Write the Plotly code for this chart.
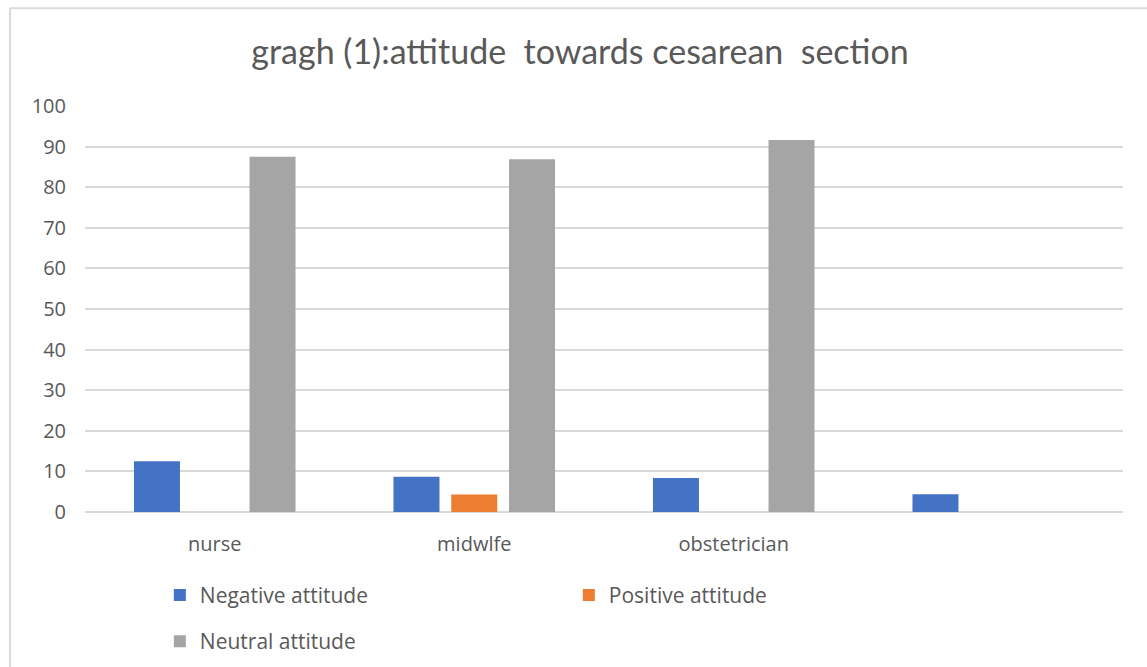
import plotly.graph_objects as go

categories = ["nurse", "midwlfe", "obstetrician", " "]
negative = [12.5, 8.7, 8.4, 4.4]
positive = [0, 4.3, 0, 0]
neutral = [87.5, 86.9, 91.6, 0]
series_names = ["Negative attitude", "Positive attitude", "Neutral attitude"]
colors = ["#4472C4", "#ED7D31", "#A5A5A5"]
y_ticks = [0, 10, 20, 30, 40, 50, 60, 70, 80, 90, 100]

TXT = "#595959"
FONT = "Open Sans"

fig = go.Figure()
fig.add_trace(go.Bar(x=categories, y=negative, name=series_names[0],
                     marker=dict(color=colors[0], line=dict(width=0)), legend="legend"))
fig.add_trace(go.Bar(x=categories, y=positive, name=series_names[1],
                     marker=dict(color=colors[1], line=dict(width=0)), legend="legend"))
fig.add_trace(go.Bar(x=categories, y=neutral, name=series_names[2],
                     marker=dict(color=colors[2], line=dict(width=0)), legend="legend2"))

fig.update_layout(
    width=1147, height=667,
    margin=dict(l=85, r=24, t=106, b=155, autoexpand=False),
    paper_bgcolor="white", plot_bgcolor="white",
    barmode="group", bargap=0.332, bargroupgap=0.204,
    title=dict(text="gragh (1):attitude\u00a0 towards cesarean\u00a0 section",
               font=dict(family="Lato", size=34, color=TXT),
               x=0.5057, xref="container", xanchor="center",
               y=1 - 52 / 667, yref="container", yanchor="middle"),
    font=dict(family=FONT, size=20, color=TXT),
    legend=dict(orientation="h", x=0.0721, y=-0.2056, xanchor="left", yanchor="middle",
                entrywidth=364, font=dict(family=FONT, size=21, color=TXT),
                bgcolor="rgba(0,0,0,0)", itemclick=False),
    legend2=dict(orientation="h", x=0.0721, y=-0.319, xanchor="left", yanchor="middle",
                 font=dict(family=FONT, size=21, color=TXT),
                 bgcolor="rgba(0,0,0,0)", itemclick=False),
    shapes=[
        dict(type="line", xref="paper", yref="paper",
             x0=(10 - 85) / 1038, x1=1.1, y0=(511.7 - 8) / 406, y1=(511.7 - 8) / 406,
             line=dict(color="#D9D9D9", width=2)),
        dict(type="line", xref="paper", yref="paper",
             x0=(10 - 85) / 1038, x1=(10 - 85) / 1038, y0=(511.7 - 8) / 406, y1=-0.5,
             line=dict(color="#D9D9D9", width=2)),
    ],
)
fig.update_xaxes(type="category", showgrid=False, showline=False, zeroline=False,
                 ticks="", ticklabelstandoff=18,
                 tickfont=dict(family=FONT, size=20, color=TXT))
fig.update_yaxes(range=[0, 100], tickvals=y_ticks, showgrid=True, gridcolor="#D9D9D9",
                 gridwidth=1.5, zeroline=True, zerolinecolor="#D9D9D9", zerolinewidth=1.5,
                 showline=False, ticks="", ticklabelstandoff=18,
                 tickfont=dict(family=FONT, size=20, color=TXT))

fig.write_html("out.html")
